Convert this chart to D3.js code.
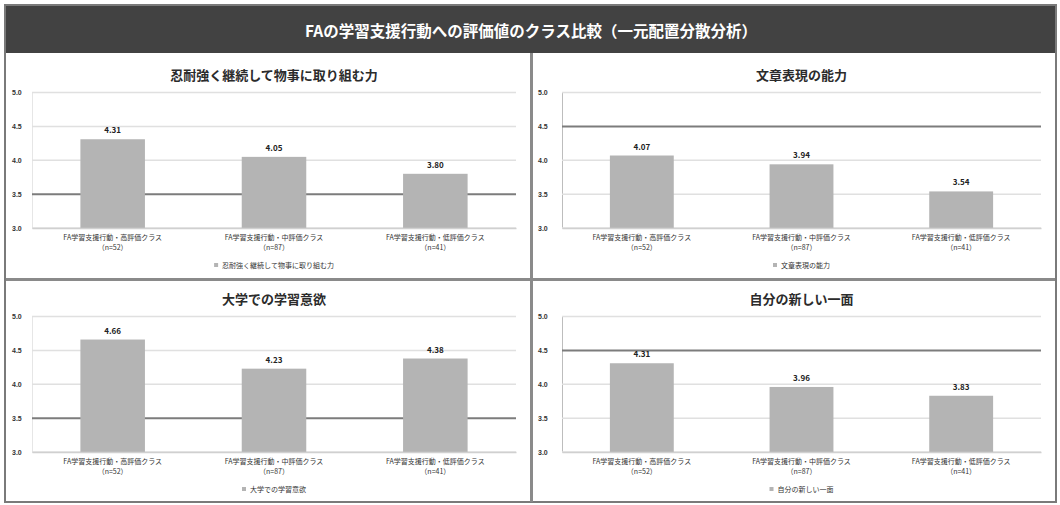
<!DOCTYPE html>
<html lang="ja">
<head>
<meta charset="utf-8">
<script src="https://cdn.jsdelivr.net/npm/d3@7/dist/d3.min.js"></script>
<style>
  html, body { margin: 0; padding: 0; background: #ffffff; }
  svg { display: block; font-family: "Noto Sans CJK JP", "Noto Sans", sans-serif; }
</style>
</head>
<body>
<svg id="chart" width="1060" height="505"></svg>
<script>
// Overall heading
const mainTitle = "FAの学習支援行動への評価値のクラス比較（一元配置分散分析）";

// Class categories (x axis, two lines each)
const classNames = [
  "FA学習支援行動・高評価クラス",
  "FA学習支援行動・中評価クラス",
  "FA学習支援行動・低評価クラス"
];
const classSizes = ["（n=52）", "（n=87）", "（n=41）"];

// Panel titles / legend names
const panelTitles = [
  "忍耐強く継続して物事に取り組む力",
  "文章表現の能力",
  "大学での学習意欲",
  "自分の新しい一面"
];

// Mean scores per class for each item
const perseverance = [4.31, 4.05, 3.80];
const writing      = [4.07, 3.94, 3.54];
const motivation   = [4.66, 4.23, 4.38];
const newSelf      = [4.31, 3.96, 3.83];

// Y axis
const yDomain = [3.0, 5.0];
const yTicks = [3.0, 3.5, 4.0, 4.5, 5.0];
const yTickLabels = ["3.0", "3.5", "4.0", "4.5", "5.0"];
// Gridline drawn darker in each panel
const strongGrid = [3.5, 4.5, 3.5, 4.5];

const panelValues = [perseverance, writing, motivation, newSelf];

const svg = d3.select("#chart");

// outer frame
svg.append("rect").attr("x", 5).attr("y", 5).attr("width", 1051).attr("height", 497)
  .attr("fill", "#ffffff").attr("stroke", "#7a7a7a").attr("stroke-width", 2);

// heading bar
svg.append("rect").attr("x", 6).attr("y", 6).attr("width", 1049).attr("height", 47)
  .attr("fill", "#424242");
svg.append("text").attr("x", 531).attr("y", 30).attr("text-anchor", "middle")
  .attr("dominant-baseline", "central").attr("fill", "#ffffff")
  .attr("font-size", 15.5).attr("font-weight", "bold").text(mainTitle);

// panel dividers
svg.append("line").attr("x1", 531.5).attr("x2", 531.5).attr("y1", 53).attr("y2", 502)
  .attr("stroke", "#8a8a8a").attr("stroke-width", 3);
svg.append("line").attr("x1", 6).attr("x2", 1055).attr("y1", 279.5).attr("y2", 279.5)
  .attr("stroke", "#8a8a8a").attr("stroke-width", 3);

const panels = [
  { x: 7,   y: 55,  w: 523, col: 0 },
  { x: 533, y: 55,  w: 522, col: 1 },
  { x: 7,   y: 279, w: 523, col: 0 },
  { x: 533, y: 279, w: 522, col: 1 }
];

panels.forEach((p, i) => {
  const g = svg.append("g");
  const left = p.x + (p.col === 0 ? 25 : 29);
  const right = p.x + p.w - 14;
  const top = p.y + 37.5;
  const bottom = p.y + 173;

  const x = d3.scaleBand().domain(classNames).range([left, right])
    .paddingInner(0.6).paddingOuter(0.3);
  const y = d3.scaleLinear().domain(yDomain).range([bottom, top]);

  // title
  g.append("text").attr("x", (left + right) / 2).attr("y", p.y + 19)
    .attr("text-anchor", "middle").attr("dominant-baseline", "central")
    .attr("fill", "#2b2b2b").attr("font-size", 13).attr("font-weight", "bold")
    .text(panelTitles[i]);

  // gridlines + y axis
  const yAxis = d3.axisLeft(y).tickValues(yTicks)
    .tickFormat((d, k) => yTickLabels[k]).tickSize(0).tickPadding(5);
  const ya = g.append("g").attr("transform", `translate(${left},0)`).call(yAxis);
  ya.select(".domain").attr("stroke", p.col === 1 ? "#bdbdbd" : "#e6e6e6");
  ya.selectAll("text").attr("font-size", 7).attr("font-weight", "bold")
    .attr("fill", "#333").attr("text-anchor", "start")
    .attr("x", p.x + 5 - left);

  g.append("g").selectAll("line").data(yTicks).join("line")
    .attr("x1", left).attr("x2", right)
    .attr("y1", d => y(d)).attr("y2", d => y(d))
    .attr("stroke", d => d === strongGrid[i] ? "#7c7c7c" : "#e0e0e0")
    .attr("stroke-width", d => d === strongGrid[i] ? 2 : 1.5);

  // bars
  const vals = panelValues[i];
  g.append("g").selectAll("rect").data(classNames).join("rect")
    .attr("x", d => x(d)).attr("width", x.bandwidth())
    .attr("y", (d, k) => y(vals[k]))
    .attr("height", (d, k) => y(yDomain[0]) - y(vals[k]))
    .attr("fill", "#b4b4b4");

  // value labels
  g.append("g").selectAll("text").data(classNames).join("text")
    .attr("x", d => x(d) + x.bandwidth() / 2)
    .attr("y", (d, k) => y(vals[k]) - 6)
    .attr("text-anchor", "middle").attr("font-size", 8).attr("font-weight", "bold")
    .attr("fill", "#222")
    .text((d, k) => vals[k].toFixed(2));

  // x axis
  const xAxis = d3.axisBottom(x).tickSize(0).tickFormat(() => "");
  const xa = g.append("g").attr("transform", `translate(0,${bottom})`).call(xAxis);
  xa.select(".domain").attr("stroke", "#d0d0d0").attr("stroke-width", 1.5);

  // category labels
  const cl = g.append("g").selectAll("text").data(classNames).join("text")
    .attr("x", d => x(d) + x.bandwidth() / 2)
    .attr("text-anchor", "middle").attr("font-size", 7).attr("fill", "#333");
  cl.append("tspan").attr("x", d => x(d) + x.bandwidth() / 2).attr("y", bottom + 12)
    .text(d => d);
  cl.append("tspan").attr("x", d => x(d) + x.bandwidth() / 2).attr("y", bottom + 22)
    .text((d, k) => classSizes[k]);

  // legend
  const lg = g.append("g");
  const lt = lg.append("text").attr("y", p.y + 213).attr("font-size", 7)
    .attr("fill", "#333").text(panelTitles[i]);
  const tw = lt.node().getComputedTextLength();
  const cx = (left + right) / 2;
  const lx = cx - (tw + 8) / 2;
  lg.append("rect").attr("x", lx).attr("y", p.y + 208).attr("width", 4).attr("height", 4)
    .attr("fill", "#b4b4b4");
  lt.attr("x", lx + 8);
});
</script>
</body>
</html>
